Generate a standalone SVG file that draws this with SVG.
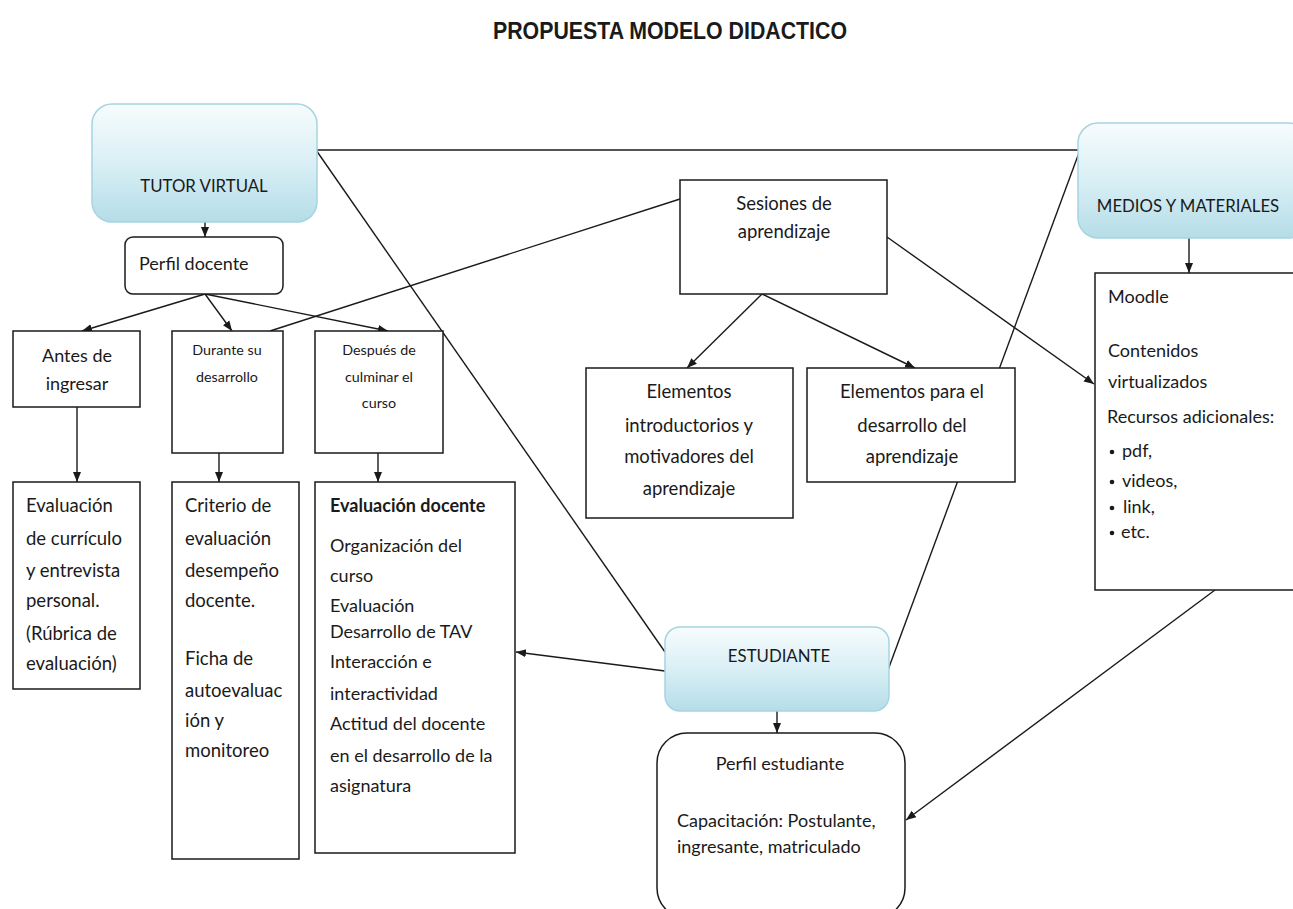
<svg xmlns="http://www.w3.org/2000/svg" width="1293" height="909" viewBox="0 0 1293 909">
<style>
text{font-family:Lato,"Noto Sans","Liberation Sans",sans-serif;fill:#1a1a1a;}
.cap{font-size:16.8px;}
.t16{font-size:18px;}
.t17{font-size:18.5px;}
.t18{font-size:18px;}
.t13{font-size:14.3px;}
.c{text-anchor:middle;}
.b{font-weight:bold;}
.box{fill:#fff;stroke:#1a1a1a;stroke-width:1.5;}
.blue{fill:url(#g);stroke:#a6d4e1;stroke-width:1.5;}
.ln{stroke:#1a1a1a;stroke-width:1.4;fill:none;}
.ar{marker-end:url(#arr);}
.title{font-family:"Liberation Sans",Arial,sans-serif;font-weight:bold;font-size:23px;}
</style>
<defs>
<linearGradient id="g" x1="0" y1="0" x2="0" y2="1">
<stop offset="0" stop-color="#f7fcfd"/>
<stop offset="0.5" stop-color="#d9eff5"/>
<stop offset="1" stop-color="#b5dde8"/>
</linearGradient>
<marker id="arr" viewBox="0 0 10 10" refX="10" refY="5" markerWidth="10" markerHeight="10" orient="auto" markerUnits="userSpaceOnUse">
<path d="M0,1 L10,5 L0,9 z" fill="#1a1a1a"/>
</marker>
</defs>
<rect width="1293" height="909" fill="#fff"/>
<text class="title c" x="670" y="39" textLength="354" lengthAdjust="spacingAndGlyphs">PROPUESTA MODELO DIDACTICO</text>

<g id="connectors">
<line class="ln" x1="316" y1="150" x2="1080" y2="150"/>
<line class="ln" x1="316" y1="150" x2="665" y2="652"/>
<line class="ln" x1="1080" y1="150" x2="888" y2="670"/>
<line class="ln" x1="680" y1="199" x2="270" y2="331"/>
<line class="ln ar" x1="887" y1="237" x2="1094" y2="384"/>
<line class="ln ar" x1="205" y1="222" x2="205" y2="237"/>
<line class="ln ar" x1="205" y1="294" x2="82" y2="331"/>
<line class="ln ar" x1="205" y1="294" x2="232" y2="331"/>
<line class="ln ar" x1="205" y1="294" x2="388" y2="331"/>
<line class="ln ar" x1="77" y1="407" x2="77" y2="482"/>
<line class="ln ar" x1="219" y1="453" x2="219" y2="482"/>
<line class="ln ar" x1="378" y1="453" x2="378" y2="482"/>
<line class="ln ar" x1="762" y1="294" x2="687" y2="368"/>
<line class="ln ar" x1="762" y1="294" x2="915" y2="368"/>
<line class="ln ar" x1="1189" y1="238" x2="1189" y2="273"/>
<line class="ln ar" x1="665" y1="671" x2="516" y2="652"/>
<line class="ln ar" x1="777" y1="711" x2="777" y2="733"/>
<line class="ln ar" x1="1215" y1="590" x2="906" y2="820"/>
</g>

<g id="tutor">
<rect class="blue" x="92" y="104" width="225" height="118" rx="20"/>
<text class="cap c" x="204" y="192">TUTOR VIRTUAL</text>
</g>
<g id="perfil-docente">
<rect class="box" x="125" y="237" width="158" height="57" rx="8"/>
<text class="t16" x="139" y="270">Perfil docente</text>
</g>
<g id="antes">
<rect class="box" x="13" y="331" width="127" height="76"/>
<text class="t18 c" x="77" y="362">Antes de</text>
<text class="t18 c" x="77" y="390">ingresar</text>
</g>
<g id="durante">
<rect class="box" x="172" y="331" width="111" height="122"/>
<text class="t13 c" x="227" y="355">Durante su</text>
<text class="t13 c" x="227" y="382">desarrollo</text>
</g>
<g id="despues">
<rect class="box" x="315" y="331" width="128" height="122"/>
<text class="t13 c" x="379" y="355">Después de</text>
<text class="t13 c" x="379" y="382">culminar el</text>
<text class="t13 c" x="379" y="408">curso</text>
</g>
<g id="eval-curriculo">
<rect class="box" x="13" y="482" width="127" height="207"/>
<text class="t17" x="26" y="512">Evaluación</text>
<text class="t17" x="26" y="545">de currículo</text>
<text class="t17" x="26" y="577">y entrevista</text>
<text class="t17" x="26" y="607">personal.</text>
<text class="t17" x="26" y="640">(Rúbrica de</text>
<text class="t17" x="26" y="670">evaluación)</text>
</g>
<g id="criterio">
<rect class="box" x="172" y="482" width="127" height="377"/>
<text class="t17" x="185" y="512">Criterio de</text>
<text class="t17" x="185" y="545">evaluación</text>
<text class="t17" x="185" y="577">desempeño</text>
<text class="t17" x="185" y="607">docente.</text>
<text class="t17" x="185" y="665">Ficha de</text>
<text class="t17" x="185" y="697">autoevaluac</text>
<text class="t17" x="185" y="727">ión y</text>
<text class="t17" x="185" y="757">monitoreo</text>
</g>
<g id="eval-docente">
<rect class="box" x="315" y="482" width="200" height="371"/>
<text class="t16 b" x="330" y="512">Evaluación docente</text>
<text class="t16" x="330" y="552">Organización del</text>
<text class="t16" x="330" y="582">curso</text>
<text class="t16" x="330" y="612">Evaluación</text>
<text class="t16" x="330" y="638">Desarrollo de TAV</text>
<text class="t16" x="330" y="668">Interacción e</text>
<text class="t16" x="330" y="700">interactividad</text>
<text class="t16" x="330" y="730">Actitud del docente</text>
<text class="t16" x="330" y="762">en el desarrollo de la</text>
<text class="t16" x="330" y="792">asignatura</text>
</g>
<g id="sesiones">
<rect class="box" x="680" y="180" width="207" height="114"/>
<text class="t17 c" x="784" y="210">Sesiones de</text>
<text class="t17 c" x="784" y="238">aprendizaje</text>
</g>
<g id="elem-intro">
<rect class="box" x="586" y="368" width="207" height="150"/>
<text class="t17 c" x="689" y="398">Elementos</text>
<text class="t17 c" x="689" y="432">introductorios y</text>
<text class="t17 c" x="689" y="463">motivadores del</text>
<text class="t17 c" x="689" y="495">aprendizaje</text>
</g>
<g id="elem-desarrollo">
<rect class="box" x="807" y="368" width="208" height="114"/>
<text class="t17 c" x="912" y="398">Elementos para el</text>
<text class="t17 c" x="912" y="432">desarrollo del</text>
<text class="t17 c" x="912" y="463">aprendizaje</text>
</g>
<g id="medios">
<rect class="blue" x="1078" y="123" width="230" height="115" rx="20"/>
<text class="cap c" x="1188" y="212">MEDIOS Y MATERIALES</text>
</g>
<g id="moodle">
<rect class="box" x="1095" y="273" width="210" height="317"/>
<text class="t16" x="1108" y="303">Moodle</text>
<text class="t16" x="1108" y="357">Contenidos</text>
<text class="t16" x="1108" y="388">virtualizados</text>
<text class="t16" x="1107" y="423">Recursos adicionales:</text>
<circle cx="1112" cy="452" r="2.3" fill="#1a1a1a"/>
<text class="t16" x="1122" y="457">pdf,</text>
<circle cx="1112" cy="482" r="2.3" fill="#1a1a1a"/>
<text class="t16" x="1122" y="487">videos,</text>
<circle cx="1112" cy="508" r="2.3" fill="#1a1a1a"/>
<text class="t16" x="1123" y="513">link,</text>
<circle cx="1112" cy="533" r="2.3" fill="#1a1a1a"/>
<text class="t16" x="1121" y="538">etc.</text>
</g>
<g id="estudiante">
<rect class="blue" x="665" y="627" width="224" height="84" rx="15"/>
<text class="cap c" x="779" y="662">ESTUDIANTE</text>
</g>
<g id="perfil-estudiante">
<rect class="box" x="657" y="733" width="248" height="185" rx="30"/>
<text class="t16 c" x="780" y="770">Perfil estudiante</text>
<text class="t16" x="677" y="827">Capacitación: Postulante,</text>
<text class="t16" x="677" y="853">ingresante, matriculado</text>
</g>
</svg>
